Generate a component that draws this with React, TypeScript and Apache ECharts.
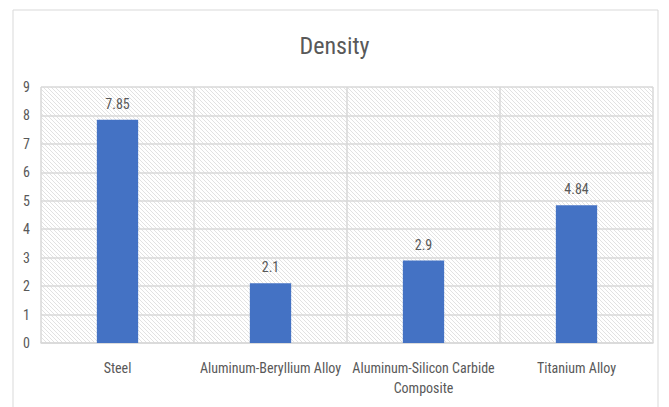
import React, { useEffect, useRef } from "react";
import * as echarts from "echarts";

const categories = ["Steel", "Aluminum-Beryllium Alloy", "Aluminum-Silicon Carbide Composite", "Titanium Alloy"];
const densities = [7.85, 2.1, 2.9, 4.84];
const yTicks = [0, 1, 2, 3, 4, 5, 6, 7, 8, 9];

const FONT = "'Liberation Sans Narrow', 'Roboto Condensed', 'Liberation Sans', sans-serif";

const hatchSvg =
  "data:image/svg+xml;utf8," +
  encodeURIComponent(
    '<svg xmlns="http://www.w3.org/2000/svg" width="4" height="4">' +
      '<rect width="4" height="4" fill="#ffffff"/>' +
      '<path d="M-1,-1 L5,5 M-1,3 L1,5 M3,-1 L5,1" stroke="#e2e2e2" stroke-width="1"/>' +
      "</svg>"
  );

export default function App() {
  const ref = useRef<HTMLDivElement>(null);
  useEffect(() => {
    if (!ref.current) return;
    const chart = echarts.init(ref.current, null, { renderer: "svg" });
    const img = new Image();
    img.src = hatchSvg;
    chart.setOption({
      animation: false,
      backgroundColor: "#ffffff",
      title: {
        text: "Density",
        left: "center",
        top: 29,
        textStyle: { fontFamily: FONT, fontSize: 24, fontWeight: "normal", color: "#595959" },
      },
      graphic: [
        {
          type: "rect",
          shape: { x: 13, y: 10, width: 645, height: 420 },
          style: { fill: "none", stroke: "#d9d9d9", lineWidth: 1 },
          silent: true,
          z: -1,
        },
      ],
      grid: {
        left: 41,
        right: 16,
        top: 87,
        bottom: 64,
        show: true,
        borderWidth: 0,
        backgroundColor: { image: img, repeat: "repeat" } as any,
      },
      xAxis: {
        type: "category",
        data: categories,
        axisLine: { show: true, lineStyle: { color: "#d9d9d9", width: 1.5 } },
        axisTick: { show: false },
        splitLine: { show: true, lineStyle: { color: "#d9d9d9", width: 1.5 } },
        axisLabel: {
          color: "#595959",
          fontFamily: FONT,
          fontSize: 14,
          margin: 15,
          lineHeight: 20,
          interval: 0,
          formatter: (v: string) => v.replace(" Composite", "\nComposite"),
        },
      },
      yAxis: {
        type: "value",
        min: yTicks[0],
        max: yTicks[yTicks.length - 1],
        interval: 1,
        axisLine: { show: false },
        axisTick: { show: false },
        splitLine: { show: true, lineStyle: { color: "#d9d9d9", width: 1.5 } },
        axisLabel: { color: "#595959", fontFamily: FONT, fontSize: 14, margin: 11 },
      },
      series: [
        {
          type: "bar",
          data: densities,
          barWidth: "27%",
          itemStyle: { color: "#4472C4" },
          label: {
            show: true,
            position: "top",
            distance: 9,
            color: "#595959",
            fontFamily: FONT,
            fontSize: 14,
          },
        },
      ],
    });
    return () => chart.dispose();
  }, []);
  return (
    <div
      ref={ref}
      style={{ position: "fixed", left: 0, top: 0, width: 669, height: 407 }}
    />
  );
}
